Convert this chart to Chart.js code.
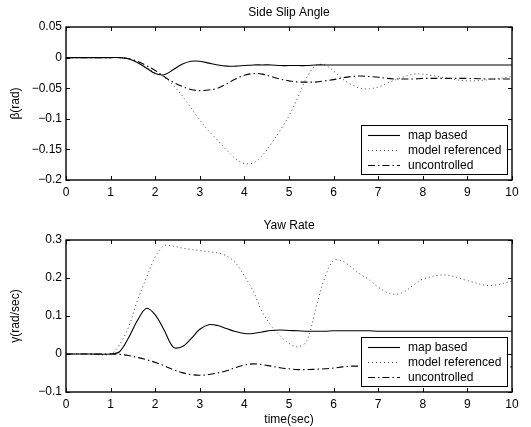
<!DOCTYPE html>
<html>
<head>
<meta charset="utf-8">
<script src="https://cdn.jsdelivr.net/npm/chart.js@4/dist/chart.umd.min.js"></script>
<style>
  body { margin: 0; background: #fff; }
  canvas { display: block; }
</style>
</head>
<body>
<canvas id="slipChart" width="531" height="213"></canvas>
<canvas id="yawChart" width="531" height="214"></canvas>
<script>
// time grid (sec)
const TIME = [0, 0.5, 1.0, 1.2, 1.4, 1.6, 1.8, 2.0, 2.2, 2.4, 2.6, 2.8, 3.0, 3.2, 3.4, 3.6, 3.8,
  4.0, 4.2, 4.4, 4.6, 4.8, 5.0, 5.2, 5.4, 5.6, 5.8, 6.0, 6.2, 6.4, 6.6, 6.8, 7.0, 7.2, 7.4,
  7.6, 7.8, 8.0, 8.5, 9.0, 9.5, 10];

const SERIES_LABELS = ['map based', 'model referenced', 'uncontrolled'];

// side slip angle (rad)
const BETA_MAP = [0, 0, 0, 0, -0.002, -0.008, -0.017, -0.026, -0.028, -0.020, -0.011, -0.006, -0.006,
  -0.009, -0.012, -0.014, -0.014, -0.013, -0.012, -0.012, -0.012, -0.013, -0.013, -0.013, -0.013,
  -0.012, -0.012, -0.012, -0.012, -0.012, -0.012, -0.012, -0.012, -0.012, -0.012, -0.012, -0.012,
  -0.012, -0.012, -0.012, -0.012, -0.012];
const BETA_MODEL = [0, 0, 0, 0, -0.002, -0.008, -0.016, -0.025, -0.032, -0.045, -0.062, -0.082, -0.102,
  -0.120, -0.135, -0.151, -0.165, -0.173, -0.172, -0.160, -0.141, -0.119, -0.095, -0.065, -0.032,
  -0.013, -0.012, -0.022, -0.035, -0.044, -0.050, -0.051, -0.048, -0.042, -0.036, -0.031, -0.027,
  -0.027, -0.033, -0.038, -0.036, -0.031];
const BETA_UNCTRL = [0, 0, 0, 0, -0.002, -0.006, -0.013, -0.021, -0.031, -0.040, -0.047, -0.052, -0.054,
  -0.053, -0.050, -0.043, -0.035, -0.029, -0.026, -0.027, -0.031, -0.035, -0.038, -0.040, -0.040,
  -0.040, -0.038, -0.036, -0.033, -0.031, -0.030, -0.031, -0.032, -0.034, -0.035, -0.035, -0.035,
  -0.034, -0.034, -0.034, -0.035, -0.035];

// yaw rate (rad/sec)
const GAMMA_MAP = [0, 0, 0, 0.006, 0.042, 0.088, 0.120, 0.103, 0.063, 0.019, 0.019, 0.040, 0.065,
  0.077, 0.075, 0.067, 0.059, 0.054, 0.054, 0.058, 0.062, 0.063, 0.062, 0.061, 0.060, 0.060, 0.060,
  0.061, 0.061, 0.061, 0.061, 0.061, 0.060, 0.060, 0.060, 0.060, 0.060, 0.060, 0.060, 0.060, 0.060,
  0.060];
const GAMMA_MODEL = [0, 0, 0, 0.025, 0.070, 0.140, 0.200, 0.255, 0.285, 0.284, 0.279, 0.275, 0.272,
  0.269, 0.266, 0.258, 0.240, 0.205, 0.165, 0.110, 0.075, 0.048, 0.028, 0.019, 0.035, 0.120, 0.200,
  0.246, 0.244, 0.228, 0.210, 0.195, 0.176, 0.162, 0.157, 0.165, 0.182, 0.197, 0.208, 0.193, 0.180,
  0.192];
const GAMMA_UNCTRL = [0, 0, 0, -0.001, -0.004, -0.009, -0.015, -0.022, -0.031, -0.041, -0.049, -0.054,
  -0.056, -0.054, -0.050, -0.044, -0.036, -0.029, -0.026, -0.028, -0.032, -0.036, -0.039, -0.041,
  -0.041, -0.040, -0.039, -0.037, -0.034, -0.032, -0.032, -0.033, -0.034, -0.034, -0.034, -0.034,
  -0.034, -0.034, -0.034, -0.034, -0.034, -0.034];

const FONT = "'Liberation Sans', Arial, Helvetica, sans-serif";
Chart.defaults.font.family = FONT;
Chart.defaults.font.size = 12;
Chart.defaults.color = '#000';

const STYLES = [
  {borderColor: '#000', borderWidth: 1.1, borderDash: []},
  {borderColor: '#444', borderWidth: 1, borderDash: [1, 3]},
  {borderColor: '#000', borderWidth: 1.1, borderDash: [7, 3, 1.5, 3]}
];

function toPoints(values) {
  return TIME.map((t, i) => ({x: t, y: values[i]}));
}

function makeDatasets(seriesList) {
  return seriesList.map((values, i) => ({
    label: SERIES_LABELS[i],
    data: toPoints(values),
    borderColor: STYLES[i].borderColor,
    borderWidth: STYLES[i].borderWidth,
    borderDash: STYLES[i].borderDash,
    pointRadius: 0,
    fill: false,
    tension: 0.35
  }));
}

function fmtTick(v) {
  const s = String(parseFloat(v.toFixed(2)));
  return s.replace('-', '\u2212');
}

// box round the axes with inward tick marks, title centred over the axes
const boxTicks = {
  id: 'boxTicks',
  afterDatasetsDraw(chart) {
    const {ctx, chartArea: a, scales: {x, y}} = chart;
    ctx.save();
    ctx.strokeStyle = '#000';
    ctx.lineWidth = 1;
    ctx.beginPath();
    x.ticks.forEach(t => {
      const px = Math.round(x.getPixelForValue(t.value)) + 0.5;
      ctx.moveTo(px, a.bottom); ctx.lineTo(px, a.bottom - 4);
      ctx.moveTo(px, a.top); ctx.lineTo(px, a.top + 4);
    });
    y.ticks.forEach(t => {
      const py = Math.round(y.getPixelForValue(t.value)) + 0.5;
      ctx.moveTo(a.left, py); ctx.lineTo(a.left + 4, py);
      ctx.moveTo(a.right, py); ctx.lineTo(a.right - 4, py);
    });
    ctx.stroke();
    ctx.lineWidth = 1.4;
    ctx.strokeRect(a.left, a.top, a.width, a.height);

    ctx.fillStyle = '#000';
    ctx.font = '12px ' + FONT;
    ctx.textAlign = 'center';
    ctx.textBaseline = 'middle';
    ctx.fillText(chart.options.axesTitle, (a.left + a.right) / 2, a.top - 14);
    ctx.restore();
  }
};

// legend box in the lower right corner of the axes
const cornerLegend = {
  id: 'cornerLegend',
  afterDraw(chart) {
    const {ctx, chartArea: a} = chart;
    const w = 146, h = 49;
    const left = a.right - 5 - w, top = a.bottom - 6 - h;
    ctx.save();
    ctx.fillStyle = '#fff';
    ctx.fillRect(left, top, w, h);
    ctx.strokeStyle = '#000';
    ctx.lineWidth = 1;
    ctx.strokeRect(left + 0.5, top + 0.5, w, h);
    chart.data.datasets.forEach((ds, i) => {
      const yy = Math.round(top + 10 + i * 15) + 0.5;
      ctx.beginPath();
      ctx.setLineDash(ds.borderDash);
      ctx.strokeStyle = ds.borderColor;
      ctx.lineWidth = ds.borderWidth;
      ctx.moveTo(left + 7, yy);
      ctx.lineTo(left + 39, yy);
      ctx.stroke();
      ctx.setLineDash([]);
      ctx.fillStyle = '#000';
      ctx.font = '12px ' + FONT;
      ctx.textBaseline = 'middle';
      ctx.fillText(ds.label, left + 47, yy);
    });
    ctx.restore();
  }
};

function makeConfig(title, seriesList, yMin, yMax, yStep, yTitle, xTitle, xHeight) {
  return {
    type: 'line',
    data: {datasets: makeDatasets(seriesList)},
    plugins: [boxTicks, cornerLegend],
    options: {
      axesTitle: title,
      responsive: false,
      animation: false,
      layout: {padding: {left: 0, right: 19, top: 27, bottom: 0}},
      plugins: {
        legend: {display: false},
        tooltip: {enabled: false},
        title: {display: false}
      },
      scales: {
        x: {
          type: 'linear',
          min: 0,
          max: 10,
          ticks: {stepSize: 1, padding: 5, maxRotation: 0},
          grid: {display: false, drawTicks: false},
          border: {display: false},
          title: {display: !!xTitle, text: xTitle, padding: {top: 0, bottom: 0}},
          afterFit: s => { s.height = xHeight; }
        },
        y: {
          min: yMin,
          max: yMax,
          ticks: {stepSize: yStep, padding: 4, callback: fmtTick},
          grid: {display: false, drawTicks: false},
          border: {display: false},
          title: {display: true, text: yTitle, padding: {top: 8, bottom: 0}},
          afterFit: s => { s.width = 66; }
        }
      }
    }
  };
}

new Chart(document.getElementById('slipChart'),
  makeConfig('Side Slip Angle', [BETA_MAP, BETA_MODEL, BETA_UNCTRL], -0.2, 0.05, 0.05, '\u03b2(rad)', '', 33));
new Chart(document.getElementById('yawChart'),
  makeConfig('Yaw Rate', [GAMMA_MAP, GAMMA_MODEL, GAMMA_UNCTRL], -0.1, 0.3, 0.1, '\u03b3(rad/sec)', 'time(sec)', 35));
</script>
</body>
</html>
